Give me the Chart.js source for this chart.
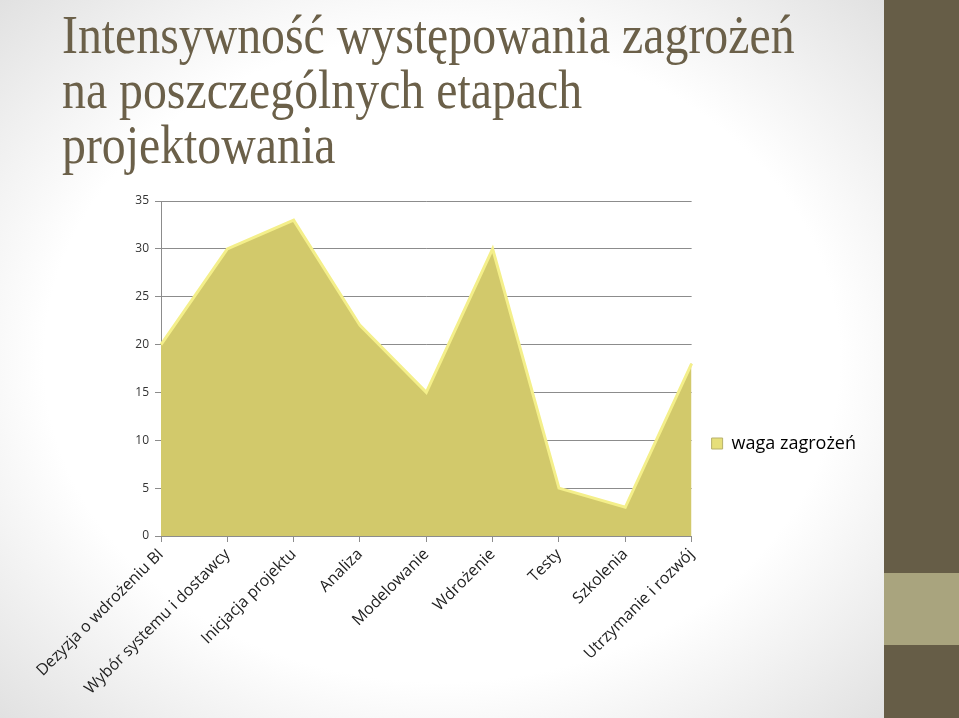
<!DOCTYPE html>
<html>
<head>
<meta charset="utf-8">
<script src="https://cdn.jsdelivr.net/npm/chart.js@4"></script>
<style>
  html, body { margin: 0; padding: 0; }
  body { width: 959px; height: 718px; position: relative; overflow: hidden; background: #fff; }
  .slide {
    position: absolute; left: 0; top: 0; width: 884px; height: 718px;
    background: radial-gradient(ellipse 75% 75% at 50% 50%, #ffffff 60%, #dcdcdc 100%);
  }
  .band { position: absolute; left: 884px; top: 0; width: 75px; height: 718px; background: #665d47; }
  .band .light { position: absolute; left: 0; top: 573px; width: 75px; height: 72px; background: #a9a47e; }
  h1 {
    position: absolute; left: 62px; top: 8px; margin: 0;
    font-family: "Liberation Serif", serif; font-weight: normal;
    font-size: 54px; line-height: 55px; color: #6b6049;
    white-space: nowrap;
    transform: scaleX(0.885); transform-origin: left top;
  }
  .chart-box { position: absolute; left: 0; top: 185px; width: 880px; height: 521px; }
</style>
</head>
<body>
<div class="slide"></div>
<div class="band"><div class="light"></div></div>
<h1>Intensywność występowania zagrożeń<br>na poszczególnych etapach<br>projektowania</h1>
<div class="chart-box"><canvas id="myChart"></canvas></div>
<script>
// Chart data
const stages = ['Dezyzja o wdrożeniu BI', 'Wybór systemu i dostawcy', 'Inicjacja projektu', 'Analiza',
    'Modelowanie', 'Wdrożenie', 'Testy', 'Szkolenia', 'Utrzymanie i rozwój'];
const threatWeights = [20, 30, 33, 22, 15, 30, 5, 3, 18];
const seriesLabel = 'waga zagrożeń';
const yTicks = [0, 5, 10, 15, 20, 25, 30, 35];

// Nudge the legend up a bit so it sits where the original one does
const legendShift = {
    id: 'legendShift',
    afterLayout(chart) {
        chart.legend.top -= 10;
        chart.legend.bottom -= 10;
    }
};

document.addEventListener('DOMContentLoaded', function () {
    const ctx = document.getElementById('myChart').getContext('2d');

    new Chart(ctx, {
        type: 'line',
        data: {
            labels: stages,
            datasets: [
                {
                    label: seriesLabel,
                    data: threatWeights,
                    borderColor: '#f4ef8a',
                    backgroundColor: '#d2c96b',
                    borderWidth: 3,
                    fill: 'origin',
                    tension: 0,
                    pointRadius: 0
                },
                {
                    // thin darker outline around the area
                    label: 'outline',
                    data: threatWeights,
                    borderColor: 'rgba(140, 134, 80, 0.8)',
                    borderWidth: 1,
                    fill: false,
                    tension: 0,
                    pointRadius: 0
                }
            ]
        },
        options: {
            responsive: true,
            maintainAspectRatio: false,
            animation: false,
            layout: { padding: { top: 16, right: 14 } },
            plugins: {
                legend: {
                    position: 'right',
                    labels: {
                        color: '#222',
                        font: { family: 'Open Sans', size: 18 },
                        boxWidth: 11,
                        boxHeight: 11,
                        padding: 20,
                        generateLabels: chart => [{
                            text: seriesLabel,
                            fillStyle: '#e6df7a',
                            strokeStyle: '#b8b16a',
                            lineWidth: 1,
                            datasetIndex: 0
                        }]
                    }
                },
                tooltip: { enabled: false }
            },
            scales: {
                x: {
                    offset: false,
                    grid: { drawOnChartArea: false, color: '#8c8c8c', tickLength: 6 },
                    border: { color: '#8c8c8c' },
                    ticks: {
                        color: '#222',
                        font: { family: 'Open Sans', size: 16 },
                        minRotation: 45,
                        maxRotation: 45,
                        autoSkip: false
                    },
                    afterFit: scale => { scale.height = 170; }
                },
                y: {
                    min: 0,
                    max: 35,
                    afterBuildTicks: scale => { scale.ticks = yTicks.map(v => ({ value: v })); },
                    grid: { color: '#8c8c8c', tickLength: 6 },
                    border: { color: '#8c8c8c' },
                    ticks: {
                        color: '#333',
                        font: { family: 'Open Sans', size: 12 },
                        padding: 6
                    },
                    afterFit: scale => { scale.width = 161; }
                }
            }
        },
        plugins: [legendShift]
    });
});
</script>
</body>
</html>
